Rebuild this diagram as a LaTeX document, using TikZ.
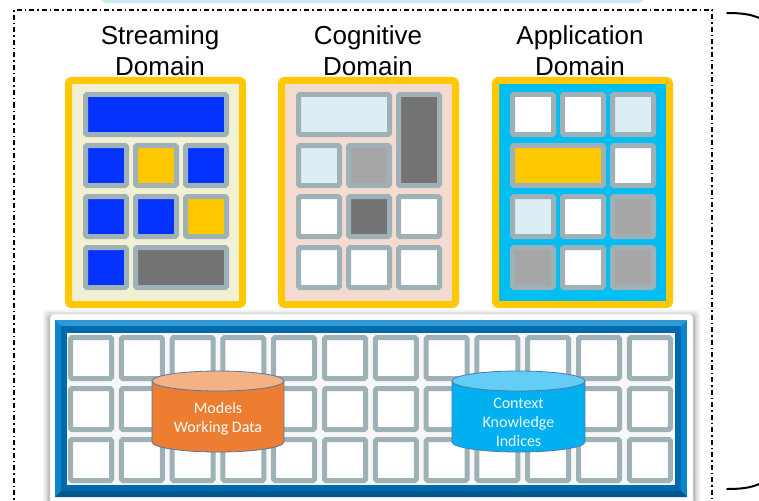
\documentclass[tikz,border=0pt]{standalone}
\usepackage{fontspec}
\setmainfont{Liberation Sans}
\newfontfamily\calib{Carlito}
\definecolor{cellgray}{HTML}{9DB1B6}
\definecolor{cblue}{HTML}{0433FF}
\definecolor{cyel}{HTML}{FFC800}
\definecolor{dgray}{HTML}{737373}
\definecolor{lgray}{HTML}{A6A6A6}
\definecolor{lcyan}{HTML}{DAEEF3}
\definecolor{beige}{HTML}{F2F0D3}
\definecolor{peach}{HTML}{F4DBCF}
\definecolor{appblue}{HTML}{00BEF2}
\definecolor{frameblue}{HTML}{0A86CE}
\definecolor{framedark}{HTML}{006AAE}
\definecolor{orng}{HTML}{ED7D31}
\definecolor{orngtop}{HTML}{F4B183}
\definecolor{cylblue}{HTML}{00B0F0}
\definecolor{cylbluetop}{HTML}{63CDF5}
\definecolor{cyloutline}{HTML}{4F7AA8}
\definecolor{topcyan}{HTML}{CDE9EE}
\newcommand\dcell[6]{%
  \filldraw[cellst,fill=#6] ({83+#1+50*#2+2.5},{92+51*#3+2.5}) rectangle ({83+#1+50*#2+50*#4-6.5},{92+51*#3+51*#5-8.5});}
\begin{document}
\begin{tikzpicture}[x=1pt,y=-1pt,
  cellst/.style={draw=cellgray,line width=5pt,rounded corners=1.5pt},
  domainbox/.style={draw=cyel,line width=7pt,rounded corners=3pt},
  title/.style={font=\fontsize{26}{31.5}\selectfont,align=center,anchor=base,inner sep=0pt},
  cyltext/.style={font=\calib\fontsize{16}{19}\selectfont,align=center,text=white,inner sep=0pt},
  cylline/.style={draw=cyloutline,line width=0.8pt},
  frameline/.style={line width=1.5pt,dash pattern=on 5pt off 3pt on 1.5pt off 3pt},
  bracest/.style={line width=2pt,line cap=round}]
\useasboundingbox (0,0) rectangle (759,500);
\fill[white] (0,0) rectangle (759,500);
% top cyan sliver
\fill[topcyan] (100,-1) -- (106,3.5) -- (639,3.5) -- (645,-1) -- cycle;
% dash-dot frame
\draw[frameline] (14,520) -- (14,10) -- (712,10) -- (712,520);
% brace parts
\draw[bracest] (727,13) .. controls (745,13) and (755,15) .. (765,21);
\draw[bracest] (727,489) .. controls (745,489) and (755,487) .. (765,481);
% titles
\node[title] (tstream) at (160,76) {Streaming\\Domain};
\node[title] (tcog) at (368,76) {Cognitive\\Domain};
\node[title] (tapp) at (580,76) {Application\\Domain};
% domain boxes
\filldraw[domainbox,fill=beige] (68.5,80.5) rectangle (242.5,304.5);
\filldraw[domainbox,fill=peach] (281.5,80.5) rectangle (455.5,304.5);
\filldraw[domainbox,fill=appblue] (495.5,80.5) rectangle (669.5,304.5);
% streaming cells
\dcell{0}{0}{0}{3}{1}{cblue}
\dcell{0}{0}{1}{1}{1}{cblue}
\dcell{0}{1}{1}{1}{1}{cyel}
\dcell{0}{2}{1}{1}{1}{cblue}
\dcell{0}{0}{2}{1}{1}{cblue}
\dcell{0}{1}{2}{1}{1}{cblue}
\dcell{0}{2}{2}{1}{1}{cyel}
\dcell{0}{0}{3}{1}{1}{cblue}
\dcell{0}{1}{3}{2}{1}{dgray}
% cognitive cells
\dcell{213}{0}{0}{2}{1}{lcyan}
\dcell{213}{2}{0}{1}{2}{dgray}
\dcell{213}{0}{1}{1}{1}{lcyan}
\dcell{213}{1}{1}{1}{1}{lgray}
\dcell{213}{0}{2}{1}{1}{white}
\dcell{213}{1}{2}{1}{1}{dgray}
\dcell{213}{2}{2}{1}{1}{white}
\dcell{213}{0}{3}{1}{1}{white}
\dcell{213}{1}{3}{1}{1}{white}
\dcell{213}{2}{3}{1}{1}{white}
% application cells
\dcell{427}{0}{0}{1}{1}{white}
\dcell{427}{1}{0}{1}{1}{white}
\dcell{427}{2}{0}{1}{1}{lcyan}
\dcell{427}{0}{1}{2}{1}{cyel}
\dcell{427}{2}{1}{1}{1}{white}
\dcell{427}{0}{2}{1}{1}{lcyan}
\dcell{427}{1}{2}{1}{1}{white}
\dcell{427}{2}{2}{1}{1}{lgray}
\dcell{427}{0}{3}{1}{1}{lgray}
\dcell{427}{1}{3}{1}{1}{white}
\dcell{427}{2}{3}{1}{1}{lgray}
% bottom panel shadow
\foreach \s/\o in {7/0.05,5/0.07,3/0.09,1.5/0.12}
  \fill[black,opacity=\o,rounded corners=4pt] ({50-\s},{314-\s+3}) rectangle ({693+\s},520);
\filldraw[fill=white,draw=black!12,line width=0.6pt,rounded corners=4pt] (50,314) rectangle (693,520);
% blue frame with bevel
\fill[frameblue] (55,320) rectangle (687,497);
\fill[framedark] (61,326) rectangle (681,491);
\fill[frameblue!85!white] (55,320) -- (687,320) -- (681,326) -- (61,326) -- cycle;
\fill[framedark!80!black] (55,497) -- (687,497) -- (681,491) -- (61,491) -- cycle;
\fill[black!3] (67,333) rectangle (675,485);
% bottom cells
\foreach \i in {0,...,11}
  \foreach \j in {0,1,2}
    \filldraw[cellst,fill=white] ({68+50.8*\i+2.5},{335+51*\j+2.5}) rectangle ({68+50.8*\i+43.5},{335+51*\j+43.5});
% orange cylinder
\fill[orng] (152,381) rectangle (284,442);
\fill[orng] (218,442) ellipse [x radius=66, y radius=10];
\draw[cylline] (152,381) -- (152,442) arc[start angle=180,end angle=0,x radius=66,y radius=10] -- (284,381);
\filldraw[cylline,fill=orngtop] (218,381) ellipse [x radius=66, y radius=10];
\node[cyltext] (cyl1) at (218,419) {Models\\Working Data};
% blue cylinder
\fill[cylblue] (452,381) rectangle (585,442);
\fill[cylblue] (518.5,442) ellipse [x radius=66.5, y radius=10];
\draw[cylline] (452,381) -- (452,442) arc[start angle=180,end angle=0,x radius=66.5,y radius=10] -- (585,381);
\filldraw[cylline,fill=cylbluetop] (518.5,381) ellipse [x radius=66.5, y radius=10];
\node[cyltext,text=white!92!cyan] (cyl2) at (518.5,422) {Context\\Knowledge\\Indices};
\end{tikzpicture}
\end{document}
